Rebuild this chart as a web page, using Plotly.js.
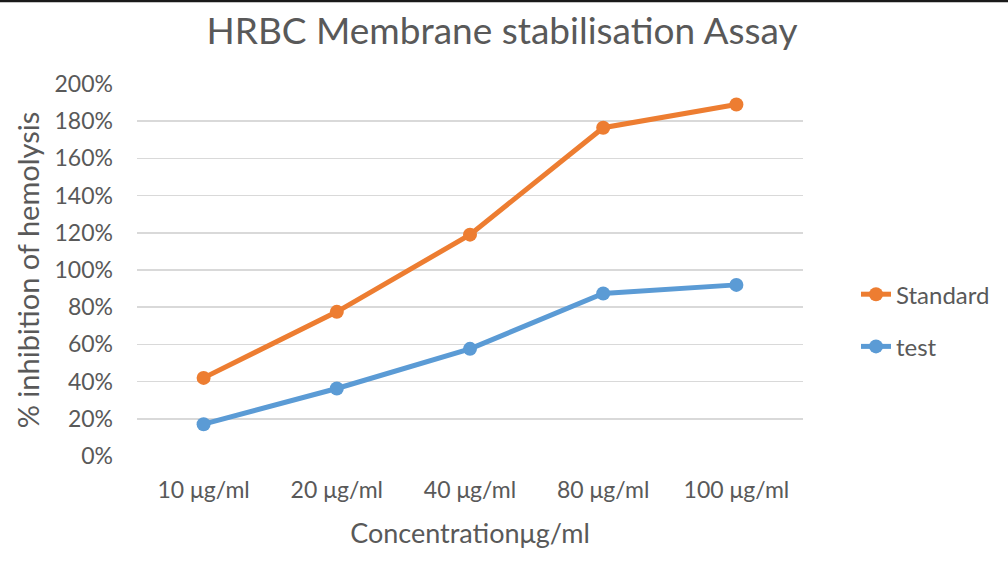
<!DOCTYPE html>
<html>
<head>
<meta charset="utf-8">
<script src="https://cdn.plot.ly/plotly-3.0.1.min.js"></script>
<style>html,body{margin:0;padding:0;background:#fff;}#chart{width:1008px;height:566px;}</style>
</head>
<body>
<div id="chart"></div>
<script>
const categories = ["10 μg/ml", "20 μg/ml", "40 μg/ml", "80 μg/ml", "100 μg/ml"];
const standardValues = [0.42, 0.775, 1.19, 1.765, 1.89];
const testValues = [0.171, 0.363, 0.576, 0.874, 0.92];
const yTickValues = [0, 0.2, 0.4, 0.6, 0.8, 1.0, 1.2, 1.4, 1.6, 1.8, 2.0];

const font = "Lato, 'Open Sans', sans-serif";
const textColor = "#595959";

const traces = [
  {
    x: categories, y: standardValues, name: "Standard", type: "scatter", mode: "lines+markers",
    line: {color: "#ED7D31", width: 5}, marker: {color: "#ED7D31", size: 14},
    legendgroup: "a"
  },
  {
    x: categories, y: testValues, name: "test", type: "scatter", mode: "lines+markers",
    line: {color: "#5B9BD5", width: 5}, marker: {color: "#5B9BD5", size: 14},
    legendgroup: "b"
  }
];

const layout = {
  width: 1008, height: 566,
  paper_bgcolor: "#fff", plot_bgcolor: "#fff",
  margin: {l: 137, r: 205, t: 84, b: 110},
  font: {family: font, color: textColor, size: 23},
  title: {text: "HRBC Membrane stabilisation Assay", font: {family: font, size: 37, color: textColor},
          x: 0.498, xref: "container", xanchor: "center", y: 0.945, yanchor: "middle"},
  xaxis: {
    type: "category", range: [-0.5, 4.5], showgrid: false, zeroline: false, showline: false,
    ticks: "", tickfont: {size: 23, color: textColor}, ticklabelstandoff: 18,
    title: {text: "Concentrationμg/ml", font: {size: 27, color: textColor}, standoff: 22}
  },
  yaxis: {
    range: [0, 2.0], tickvals: yTickValues, tickformat: ".0%", showgrid: true,
    gridcolor: "#D9D9D9", gridwidth: 1.5, zeroline: false, showline: false, ticks: "",
    tickfont: {size: 23, color: textColor}, ticklabelstandoff: 23,
    title: {text: "% inhibition of hemolysis", font: {size: 29, color: textColor}, standoff: 6}
  },
  legend: {
    x: 1.0796, xanchor: "left", y: 0.364, yanchor: "middle",
    font: {size: 24, color: textColor}, tracegroupgap: 18, bgcolor: "rgba(0,0,0,0)"
  },
  showlegend: true,
  shapes: [
    {type: "line", xref: "paper", yref: "paper", x0: -0.3, x1: 1.4, y0: 1.0 + 84/372 - 0.002, y1: 1.0 + 84/372 - 0.002,
     line: {color: "#1a1a1a", width: 3}}
  ]
};

Plotly.newPlot("chart", traces, layout, {displayModeBar: false, staticPlot: true});
</script>
</body>
</html>
